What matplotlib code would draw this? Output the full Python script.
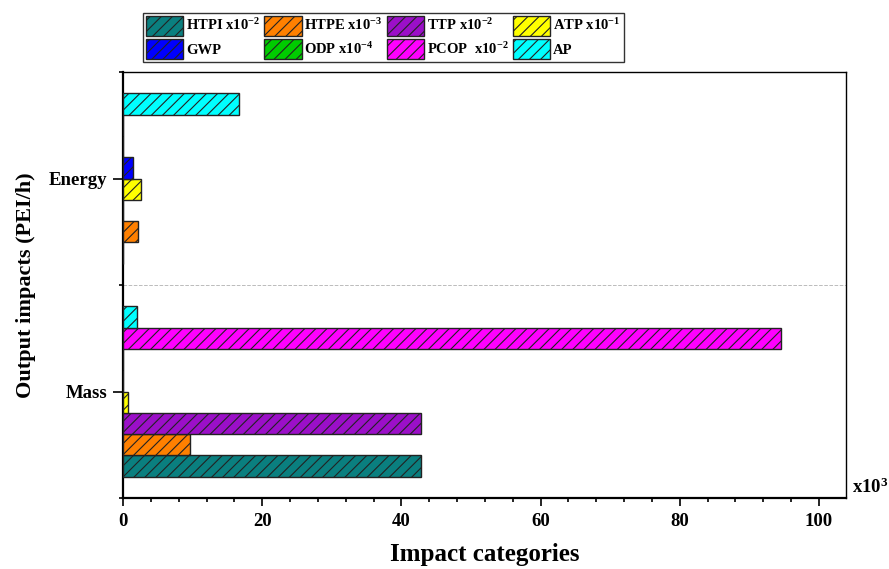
import matplotlib
matplotlib.use("Agg")
import matplotlib.pyplot as plt
import numpy as np
from matplotlib.patches import Patch
from matplotlib.ticker import MultipleLocator

plt.rcParams['font.family'] = ['Liberation Serif', 'DejaVu Serif']
plt.rcParams['font.weight'] = 'bold'
plt.rcParams['hatch.linewidth'] = 0.8
plt.rcParams['mathtext.fontset'] = 'custom'
plt.rcParams['mathtext.rm'] = 'Liberation Serif:bold'
plt.rcParams['mathtext.it'] = 'Liberation Serif:bold'
plt.rcParams['mathtext.bf'] = 'Liberation Serif:bold'
plt.rcParams['mathtext.default'] = 'rm'

groups = ["Mass", "Energy"]
series = ["HTPI x10$^{-2}$", "HTPE x10$^{-3}$", "TTP x10$^{-2}$", "ATP x10$^{-1}$",
          "GWP", "ODP x10$^{-4}$", "PCOP  x10$^{-2}$", "AP"]
colors = ["#0a7f7f", "#ff8000", "#9b0fc8", "#ffff00",
          "#0000ff", "#00cc00", "#ff00ff", "#00ffff"]
# values (x10^3) per series: [Mass, Energy]
HTPI = [42.8, 0.05]
HTPE = [9.6, 2.1]
TTP = [42.8, 0.05]
ATP = [0.7, 2.6]
GWP = [0.05, 1.5]
ODP = [0.05, 0.05]
PCOP = [94.5, 0.05]
AP = [2.0, 16.6]
values = [HTPI, HTPE, TTP, ATP, GWP, ODP, PCOP, AP]

fig = plt.figure(figsize=(8.89, 5.69), dpi=100)
ax = fig.add_axes([123/889, 1-498/569, (846-123)/889, (498-72)/569])

n = len(series)
h = 0.1
ypos = np.arange(len(groups))
for i, (vals, c) in enumerate(zip(values, colors)):
    off = (i - (n - 1) / 2) * h
    ax.barh(ypos + off, vals, height=h, color=c, edgecolor='#222222',
            linewidth=1.0, hatch='///', zorder=3)

ax.set_xlim(0, 103.9)
ax.set_ylim(-0.5, 1.5)
ax.set_yticks(ypos)
ax.set_yticklabels(groups)
ax.set_yticks([-0.5, 0.5, 1.5], minor=True)
ax.axhline(0.5, color='#bbbbbb', linestyle='--', linewidth=0.7, zorder=1)
ax.xaxis.set_major_locator(MultipleLocator(20))
ax.xaxis.set_minor_locator(MultipleLocator(4))

ax.tick_params(axis='both', which='major', direction='out', length=6, width=1.2,
               labelsize=13.5)
ax.tick_params(axis='both', which='minor', direction='out', length=3, width=1.2)
ax.tick_params(axis='y', which='major', length=7.5, pad=4)
ax.tick_params(axis='x', which='major', pad=5)
for lab in ax.get_xticklabels() + ax.get_yticklabels():
    lab.set_fontweight('bold')

for s in ['left', 'bottom']:
    ax.spines[s].set_linewidth(1.6)
for s in ['top', 'right']:
    ax.spines[s].set_linewidth(1.0)

ax.set_xlabel("Impact categories", fontsize=18, fontweight='bold', labelpad=9)
ax.set_ylabel("Output impacts (PEI/h)", fontsize=16, fontweight='bold', labelpad=9)

ax.text(1.008, 0.025, "x10$^{3}$", transform=ax.transAxes, fontsize=13.5,
        fontweight='bold', ha='left', va='center')

handles = [Patch(facecolor=c, edgecolor='#222222', hatch='///', label=s)
           for s, c in zip(series, colors)]
order = [0, 4, 1, 5, 2, 6, 3, 7]
leg = fig.legend([handles[i] for i in order], [series[i] for i in order],
                 ncol=4, loc='upper left', bbox_to_anchor=(143/889, 1-13/569),
                 frameon=True, fancybox=False, edgecolor='black',
                 prop={'weight': 'bold', 'size': 10.5},
                 handlelength=2.55, handleheight=1.7, handletextpad=0.2,
                 columnspacing=0.3, labelspacing=0.25, borderpad=0.2,
                 borderaxespad=0)
leg.get_frame().set_linewidth(1.0)

fig.savefig("out.png", dpi=100)
